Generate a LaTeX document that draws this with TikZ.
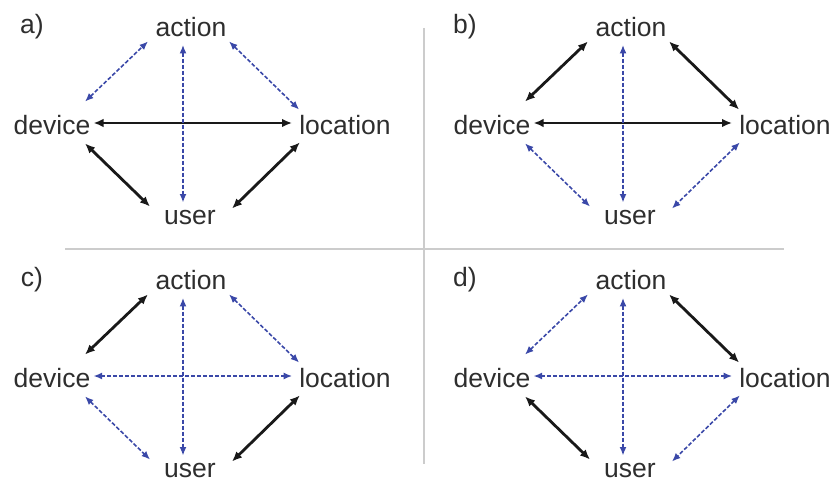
\documentclass[tikz,border=0pt]{standalone}
\usepackage{fontspec}
\setmainfont{Liberation Sans}
\usetikzlibrary{arrows.meta}

\definecolor{linkblue}{RGB}{58,72,168}

\tikzset{
  word/.style={inner sep=0pt, text=black!82, font=\fontsize{26.5}{30}\selectfont},
  hard/.style={draw=black!90, line width=2.8pt,
    {Latex[length=10pt,width=8.5pt]}-{Latex[length=10pt,width=8.5pt]}},
  soft/.style={draw=linkblue, line width=1.6pt, dash pattern=on 4pt off 2pt,
    {Latex[length=8.5pt,width=7pt]}-{Latex[length=8.5pt,width=7pt]}},
  divider/.style={draw=gray!40, line width=1.8pt}
}

\begin{document}
\begin{tikzpicture}[x=1pt,y=-1pt]
        \useasboundingbox (0,0) rectangle (834,481);
        
        % panel dividers
        \draw[divider] (424,28) -- (424,464);
        \draw[divider] (65,249) -- (784,249);
        
        % one panel per entry: name/shift/label x/style of each link
        \foreach \p/\dx/\dy/\lx/\da/\al/\dl/\du/\lu in {
            a/0/0/32/soft/soft/hard/hard/hard,
            b/440/0/465/hard/hard/hard/soft/soft,
            c/0/253/32/hard/soft/soft/soft/hard,
            d/440/253/465/soft/hard/soft/hard/soft}
        {
        \begin{scope}[shift={(\dx,\dy)}]
            \node[word] (lab\p) at ({\lx-\dx},27) {\p)};
            \node[word] (act\p) at (191,27) {action};
            \node[word] (dev\p) at (52,125) {device};
            \node[word] (loc\p) at (345,125) {location};
            \node[word] (usr\p) at (190,217) {user};
            
            \draw[\dl] ([shift={(3,-2)}]dev\p.east) -- ([shift={(-7,-2)}]loc\p.west);
            \draw[soft] ([shift={(-8,8)}]act\p.south) -- ([shift={(-7,-7)}]usr\p.north);
            \draw[\da] ([shift={(-5.5,-13.5)}]dev\p.north east) -- ([shift={(-7.5,4.5)}]act\p.south west);
            \draw[\al] ([shift={(2.5,4.5)}]act\p.south east) -- ([shift={(0,-5.5)}]loc\p.north west);
            \draw[\du] ([shift={(-5.5,8.5)}]dev\p.south east) -- ([shift={(-14,-3)}]usr\p.north west);
            \draw[\lu] ([shift={(0.7,7.5)}]loc\p.south west) -- ([shift={(16,-1)}]usr\p.north east);
        \end{scope}
        }
    \end{tikzpicture}
\end{document}
